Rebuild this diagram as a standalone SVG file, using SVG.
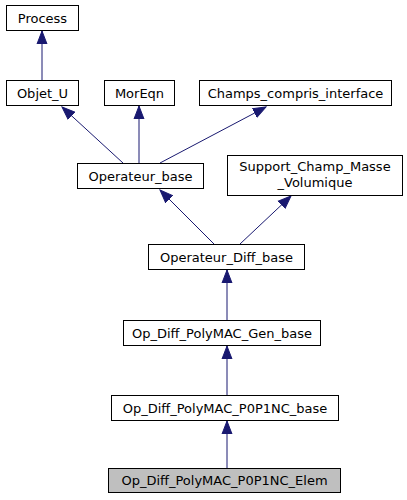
<svg xmlns="http://www.w3.org/2000/svg" width="407" height="500" viewBox="0 0 407 500">
<style>
.n rect{fill:#fff;stroke:#000;stroke-width:1}
.n.cur rect{fill:#bfbfbf}
.n text{font-family:"DejaVu Sans",sans-serif;font-size:13px;text-anchor:middle;fill:#000}
.e path{fill:none;stroke:#191970;stroke-width:1}
</style>
<defs>
<marker id="a" markerUnits="userSpaceOnUse" markerWidth="14" markerHeight="14" viewBox="0 0 14 14" refX="13" refY="7" orient="auto">
<path d="M0,2 L13,7 L0,12 Z" fill="#191970" stroke="#191970"/>
</marker>
</defs>
<rect width="407" height="500" fill="#fff"/>
<g id="edges" class="e">
<path d="M42,80 L42,31" marker-end="url(#a)"/>
<path d="M123,163 L62,107" marker-end="url(#a)"/>
<path d="M139,163 L139,106" marker-end="url(#a)"/>
<path d="M160,163 L266,107" marker-end="url(#a)"/>
<path d="M214,244 L160,190" marker-end="url(#a)"/>
<path d="M240,244 L291,196" marker-end="url(#a)"/>
<path d="M227,320 L227,270" marker-end="url(#a)"/>
<path d="M227,395 L227,346" marker-end="url(#a)"/>
<path d="M227,468 L227,421" marker-end="url(#a)"/>
</g>
<g id="Process" class="n"><rect x="6.5" y="5.5" width="72" height="25"/><text x="42.5" y="22.5">Process</text></g>
<g id="Objet_U" class="n"><rect x="6.5" y="80.5" width="72" height="25"/><text x="42.5" y="97.5">Objet_U</text></g>
<g id="MorEqn" class="n"><rect x="104.5" y="80.5" width="70" height="25"/><text x="139.5" y="97.5">MorEqn</text></g>
<g id="Champs_compris_interface" class="n"><rect x="199.5" y="80.5" width="192" height="25"/><text x="295.5" y="97.5">Champs_compris_interface</text></g>
<g id="Operateur_base" class="n"><rect x="77.5" y="163.5" width="126" height="25"/><text x="140.5" y="180.5">Operateur_base</text></g>
<g id="Support_Champ_Masse_Volumique" class="n"><rect x="227.5" y="155.5" width="175" height="40"/><text x="315" y="171">Support_Champ_Masse</text><text x="315" y="187">_Volumique</text></g>
<g id="Operateur_Diff_base" class="n"><rect x="148.5" y="244.5" width="156" height="25"/><text x="226.5" y="261.5">Operateur_Diff_base</text></g>
<g id="Op_Diff_PolyMAC_Gen_base" class="n"><rect x="123.5" y="320.5" width="197" height="25"/><text x="222" y="337.5">Op_Diff_PolyMAC_Gen_base</text></g>
<g id="Op_Diff_PolyMAC_P0P1NC_base" class="n"><rect x="111.5" y="395.5" width="227" height="25"/><text x="225" y="412.5">Op_Diff_PolyMAC_P0P1NC_base</text></g>
<g id="Op_Diff_PolyMAC_P0P1NC_Elem" class="n cur"><rect x="108.5" y="468.5" width="232" height="24"/><text x="224.5" y="485">Op_Diff_PolyMAC_P0P1NC_Elem</text></g>
</svg>
